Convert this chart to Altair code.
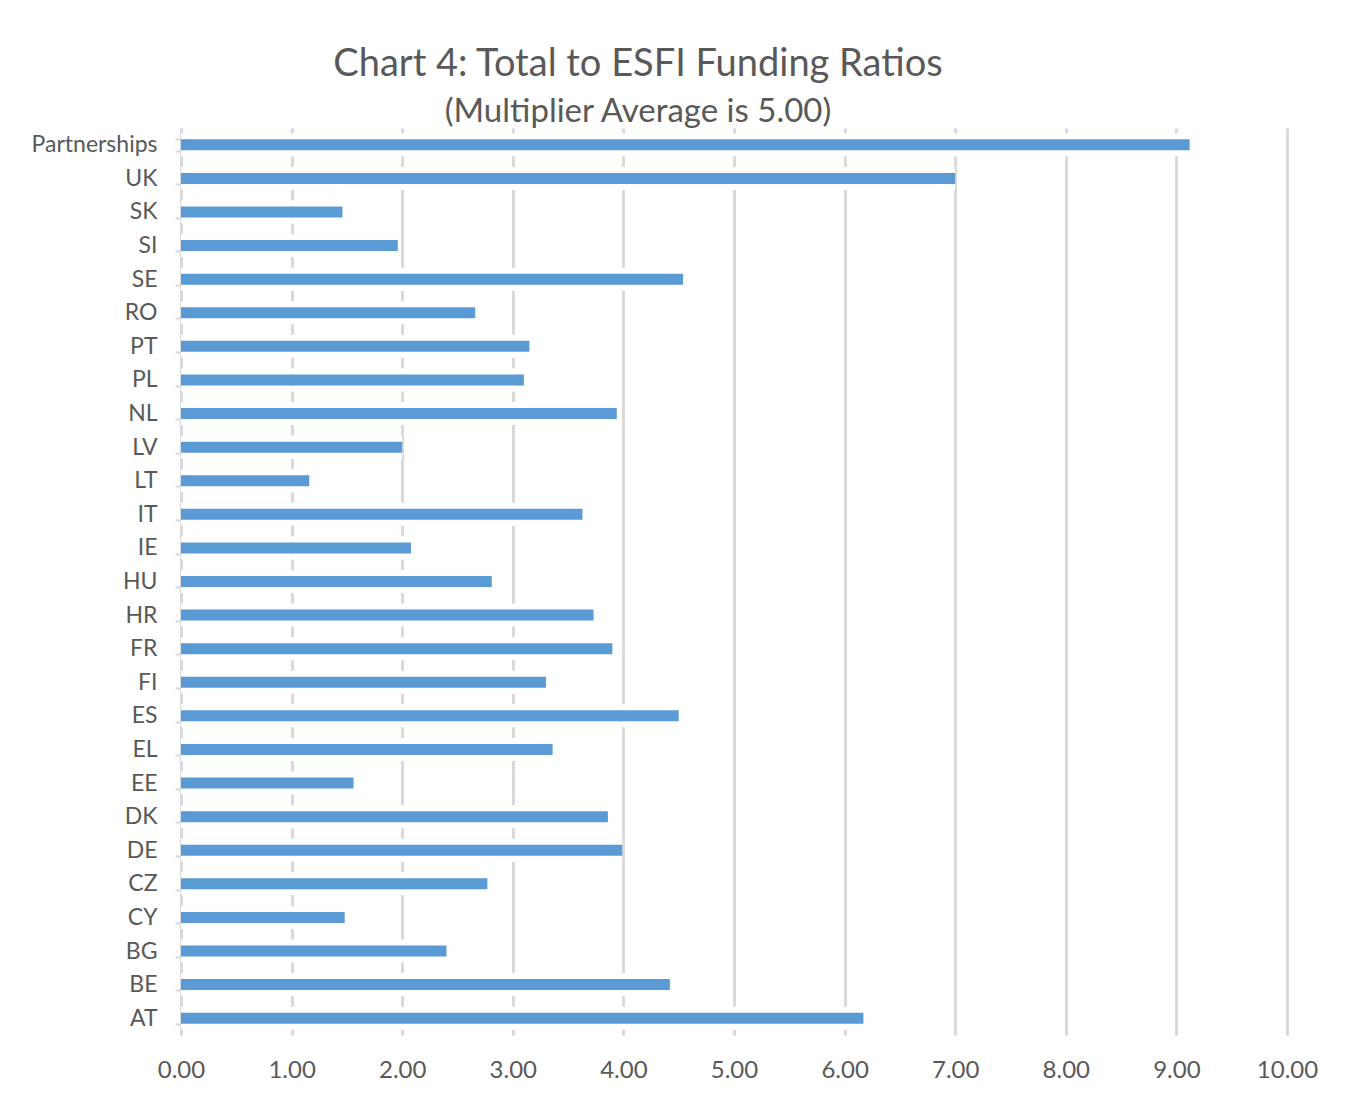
import altair as alt
import pandas as pd

categories = ["Partnerships", "UK", "SK", "SI", "SE", "RO", "PT", "PL", "NL", "LV",
              "LT", "IT", "IE", "HU", "HR", "FR", "FI", "ES", "EL", "EE",
              "DK", "DE", "CZ", "CY", "BG", "BE", "AT"]
ratios = [9.12, 7.00, 1.46, 1.96, 4.54, 2.66, 3.15, 3.10, 3.94, 2.00,
          1.16, 3.63, 2.08, 2.81, 3.73, 3.90, 3.30, 4.50, 3.36, 1.56,
          3.86, 3.99, 2.77, 1.48, 2.40, 4.42, 6.17]
x_ticks = [0, 1, 2, 3, 4, 5, 6, 7, 8, 9, 10]

df = pd.DataFrame({"country": categories, "ratio": ratios})

FONT = "Lato"
GREY = "#595959"

y_enc = alt.Y("country:N", sort=categories, title=None,
              scale=alt.Scale(paddingInner=0.66, paddingOuter=0.33),
              axis=alt.Axis(domainColor="#d9d9d9", domainWidth=2, tickColor="#d9d9d9",
                            tickWidth=2, tickSize=6, tickBand="extent",
                            labelFont=FONT, labelFontSize=23, labelColor=GREY,
                            labelPadding=18, grid=False))
x_enc = alt.X("ratio:Q", title=None,
              scale=alt.Scale(domain=[0, 10], nice=False),
              axis=alt.Axis(values=x_ticks, format=".2f", domain=False, ticks=False,
                            grid=True, gridColor="#d9d9d9", gridWidth=3,
                            labelAlign="center", labelFlush=False,
                            labelFont=FONT, labelFontSize=24, labelColor=GREY,
                            labelPadding=23))

halo = alt.Chart(df).mark_bar(color="white", size=23).encode(x=x_enc, y=y_enc)
bars = alt.Chart(df).mark_bar(color="#5b9bd5", size=11).encode(x=x_enc, y=y_enc)

chart = (halo + bars).properties(
    width=1106, height=907,
    title=alt.TitleParams(
        text="Chart 4: Total to ESFI Funding Ratios",
        subtitle="(Multiplier Average is 5.00)",
        font=FONT, fontSize=38, fontWeight="normal", color=GREY,
        subtitleFont=FONT, subtitleFontSize=33, subtitleColor=GREY,
        subtitlePadding=12, anchor="middle", frame="group", dx=-96, offset=-12),
    autosize=alt.AutoSizeParams(type="none"),
    padding={"left": 173, "top": 120, "right": 53, "bottom": 65},
    background="white",
).configure_view(stroke=None)

chart.save("out.html", embed_options={"renderer": "svg", "actions": False})
